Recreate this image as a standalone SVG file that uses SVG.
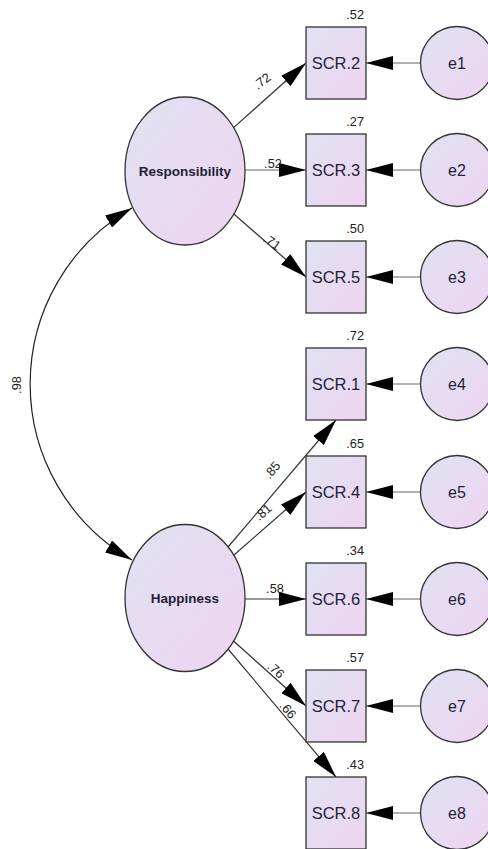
<svg xmlns="http://www.w3.org/2000/svg" width="488" height="849" viewBox="0 0 488 849">
<defs>
<linearGradient id="g" x1="0" y1="0" x2="1" y2="1">
<stop offset="0" stop-color="#dfe2f1"/>
<stop offset="1" stop-color="#efd4f3"/>
</linearGradient>
<marker id="ah" markerUnits="userSpaceOnUse" markerWidth="28" markerHeight="14" refX="27" refY="7" orient="auto-start-reverse" viewBox="0 0 28 14">
<path d="M0,0 L27,7 L0,14 z" fill="#000"/>
</marker>
<style>
.sh{fill:url(#g);stroke:#333;stroke-width:1.3}
.ln{fill:none;stroke:#333;stroke-width:1.2;marker-end:url(#ah)}
.lg{fill:none;stroke:#666;stroke-width:1.2;marker-end:url(#ah)}
.arc{fill:none;stroke:#222;stroke-width:1.2;marker-start:url(#ah);marker-end:url(#ah)}
.bx{font-family:"Liberation Sans",Arial,sans-serif;font-size:16.5px;fill:#241f36;text-anchor:middle}
.ev{font-family:"Liberation Sans",Arial,sans-serif;font-size:16px;fill:#241f36;text-anchor:middle}
.lv{font-family:"Liberation Sans",Arial,sans-serif;font-size:13.5px;font-weight:bold;fill:#241f36;text-anchor:middle}
.pl{font-family:"Liberation Sans",Arial,sans-serif;font-size:12.8px;fill:#222;text-anchor:middle}
.r2{font-family:"Liberation Sans",Arial,sans-serif;font-size:12.8px;fill:#222;text-anchor:end}
</style>
</defs>
<rect width="488" height="849" fill="#fff"/>
<g id="connectors">
<path class="arc" d="M132,208 A203,203 0 0 0 132,560"/>
<line class="ln" x1="233.6" y1="127.6" x2="306" y2="63"/>
<line class="lg" x1="245" y1="170" x2="306" y2="170"/>
<line class="ln" x1="233.8" y1="214" x2="306" y2="277"/>
<line class="ln" x1="228" y1="547" x2="336" y2="420"/>
<line class="ln" x1="234" y1="555" x2="306" y2="492"/>
<line class="ln" x1="245" y1="599" x2="306" y2="599"/>
<line class="ln" x1="233.5" y1="641" x2="306" y2="706"/>
<line class="ln" x1="228" y1="649" x2="336" y2="777"/>
<line class="lg" x1="421" y1="63" x2="366" y2="63"/>
<line class="lg" x1="421" y1="170" x2="366" y2="170"/>
<line class="lg" x1="421" y1="277" x2="366" y2="277"/>
<line class="lg" x1="421" y1="384" x2="366" y2="384"/>
<line class="lg" x1="421" y1="492" x2="366" y2="492"/>
<line class="lg" x1="421" y1="599" x2="366" y2="599"/>
<line class="lg" x1="421" y1="706" x2="366" y2="706"/>
<line class="lg" x1="421" y1="813" x2="366" y2="813"/>
<text class="pl" transform="translate(17,385) rotate(-90)" dy=".35em">.98</text>
<text class="pl" transform="translate(262,81) rotate(-38)" dy=".35em">.72</text>
<text class="pl" x="273" y="164" dy=".35em">.52</text>
<text class="pl" transform="translate(272,242) rotate(35)" dy=".35em">.71</text>
<text class="pl" transform="translate(272,470) rotate(-50)" dy=".35em">.85</text>
<text class="pl" transform="translate(263,512) rotate(-41)" dy=".35em">.81</text>
<text class="pl" x="275" y="589" dy=".35em">.58</text>
<text class="pl" transform="translate(276,670) rotate(42)" dy=".35em">.76</text>
<text class="pl" transform="translate(288,710) rotate(50)" dy=".35em">.66</text>
</g>
<g id="Responsibility"><ellipse class="sh" cx="185" cy="171" rx="60" ry="74"/><text class="lv" x="185" y="176">Responsibility</text></g>
<g id="Happiness"><ellipse class="sh" cx="185" cy="598" rx="60" ry="73.5"/><text class="lv" x="185" y="603">Happiness</text></g>
<g id="SCR2"><rect class="sh" x="306" y="27" width="60" height="72"/><text class="bx" x="336" y="69">SCR.2</text><text class="r2" x="364" y="19">.52</text></g>
<g id="SCR3"><rect class="sh" x="306" y="134" width="60" height="72"/><text class="bx" x="336" y="176">SCR.3</text><text class="r2" x="364" y="126">.27</text></g>
<g id="SCR5"><rect class="sh" x="306" y="241" width="60" height="72"/><text class="bx" x="336" y="283">SCR.5</text><text class="r2" x="364" y="233">.50</text></g>
<g id="SCR1"><rect class="sh" x="306" y="348" width="60" height="72"/><text class="bx" x="336" y="390">SCR.1</text><text class="r2" x="364" y="340">.72</text></g>
<g id="SCR4"><rect class="sh" x="306" y="456" width="60" height="72"/><text class="bx" x="336" y="498">SCR.4</text><text class="r2" x="364" y="448">.65</text></g>
<g id="SCR6"><rect class="sh" x="306" y="563" width="60" height="72"/><text class="bx" x="336" y="605">SCR.6</text><text class="r2" x="364" y="555">.34</text></g>
<g id="SCR7"><rect class="sh" x="306" y="670" width="60" height="72"/><text class="bx" x="336" y="712">SCR.7</text><text class="r2" x="364" y="662">.57</text></g>
<g id="SCR8"><rect class="sh" x="306" y="777" width="60" height="72"/><text class="bx" x="336" y="819">SCR.8</text><text class="r2" x="364" y="769">.43</text></g>
<g id="e1"><circle class="sh" cx="457" cy="63" r="36.5"/><text class="ev" x="457" y="69">e1</text></g>
<g id="e2"><circle class="sh" cx="457" cy="170" r="36.5"/><text class="ev" x="457" y="176">e2</text></g>
<g id="e3"><circle class="sh" cx="457" cy="277" r="36.5"/><text class="ev" x="457" y="283">e3</text></g>
<g id="e4"><circle class="sh" cx="457" cy="384" r="36.5"/><text class="ev" x="457" y="390">e4</text></g>
<g id="e5"><circle class="sh" cx="457" cy="492" r="36.5"/><text class="ev" x="457" y="498">e5</text></g>
<g id="e6"><circle class="sh" cx="457" cy="599" r="36.5"/><text class="ev" x="457" y="605">e6</text></g>
<g id="e7"><circle class="sh" cx="457" cy="706" r="36.5"/><text class="ev" x="457" y="712">e7</text></g>
<g id="e8"><circle class="sh" cx="457" cy="813" r="36.5"/><text class="ev" x="457" y="819">e8</text></g>
</svg>
